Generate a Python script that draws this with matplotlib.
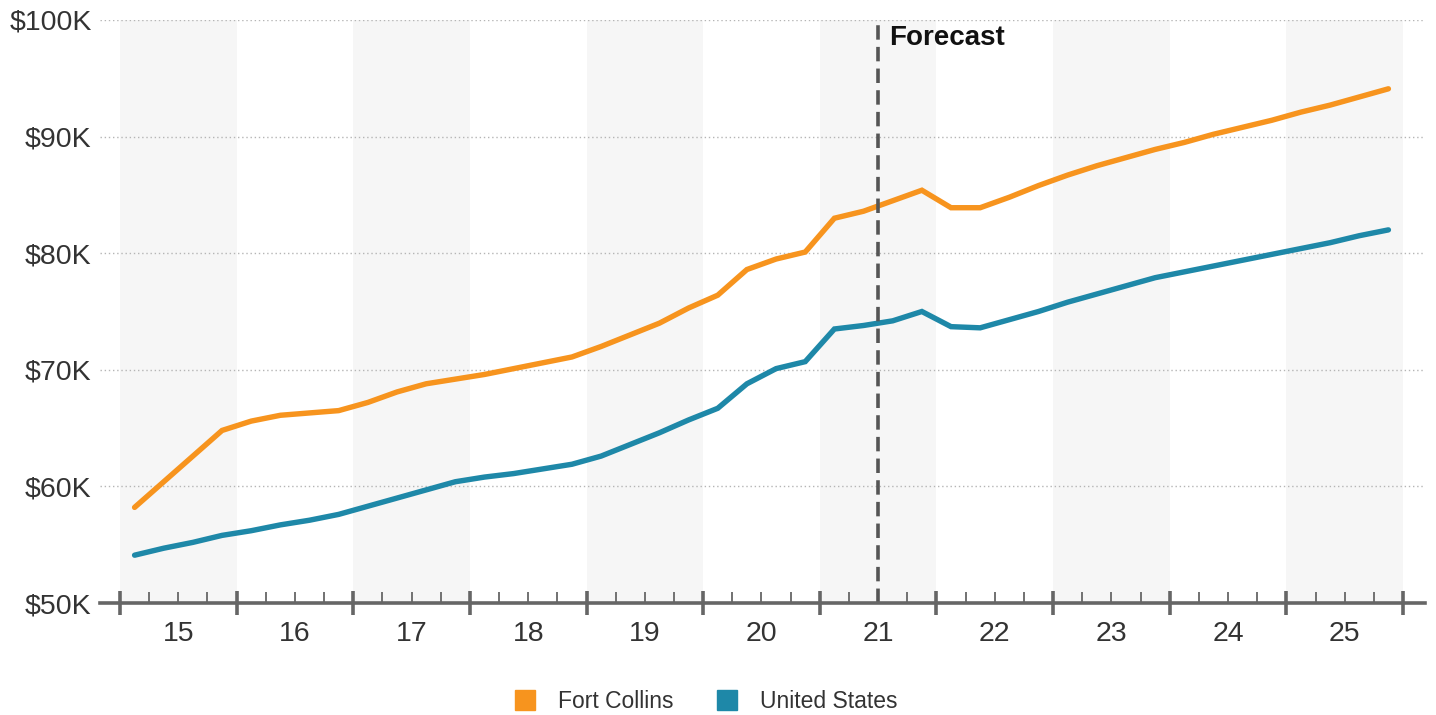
import numpy as np
import matplotlib
matplotlib.use("Agg")
import matplotlib.pyplot as plt
from matplotlib.lines import Line2D

plt.rcParams["font.family"] = ["Liberation Sans", "DejaVu Sans"]

YEARS = [15, 16, 17, 18, 19, 20, 21, 22, 23, 24, 25]
FORECAST_AT = 21.0

# quarterly values, Q1 2015 .. Q4 2025, in $K
FORT_COLLINS = [
    58.2, 60.4, 62.6, 64.8,
    65.6, 66.1, 66.3, 66.5,
    67.2, 68.1, 68.8, 69.2,
    69.6, 70.1, 70.6, 71.1,
    72.0, 73.0, 74.0, 75.3,
    76.4, 78.6, 79.5, 80.1,
    83.0, 83.6, 84.5, 85.4,
    83.9, 83.9, 84.8, 85.8,
    86.7, 87.5, 88.2, 88.9,
    89.5, 90.2, 90.8, 91.4,
    92.1, 92.7, 93.4, 94.1,
]
UNITED_STATES = [
    54.1, 54.7, 55.2, 55.8,
    56.2, 56.7, 57.1, 57.6,
    58.3, 59.0, 59.7, 60.4,
    60.8, 61.1, 61.5, 61.9,
    62.6, 63.6, 64.6, 65.7,
    66.7, 68.8, 70.1, 70.7,
    73.5, 73.8, 74.2, 75.0,
    73.7, 73.6, 74.3, 75.0,
    75.8, 76.5, 77.2, 77.9,
    78.4, 78.9, 79.4, 79.9,
    80.4, 80.9, 81.5, 82.0,
]

ORANGE = "#F7941E"
TEAL = "#1E88A8"
GREY = "#666666"


def main():
    fig = plt.figure(figsize=(14.36, 7.15), dpi=100)
    ax = fig.add_axes([100 / 1436, 112 / 715, 1325 / 1436, 583 / 715])

    x = np.array([YEARS[0] - 0.5 + (i + 0.5) / 4 for i in range(len(FORT_COLLINS))])

    # alternating year bands
    for k, yr in enumerate(YEARS):
        if k % 2 == 0:
            ax.axvspan(yr - 0.5, yr + 0.5, color="#f6f6f6", zorder=0, lw=0)

    for v in [60, 70, 80, 90, 100]:
        ax.axhline(v, color="#b5b5b5", lw=1, ls=(0, (1, 2)), zorder=1)

    ax.plot(x, FORT_COLLINS, color=ORANGE, lw=3.9, solid_capstyle="round",
            solid_joinstyle="miter", zorder=3)
    ax.plot(x, UNITED_STATES, color=TEAL, lw=3.9, solid_capstyle="round",
            solid_joinstyle="miter", zorder=3)

    ax.axvline(FORECAST_AT, color="#555555", lw=2.6, ls=(0, (4, 2)), zorder=4)
    ax.text(FORECAST_AT + 0.09, 98.45, "Forecast", fontsize=20, fontweight="bold",
            color="#111111", va="center", ha="left")

    ax.set_xlim(YEARS[0] - 0.5 - 20 / 116.6, YEARS[-1] + 0.5 + 22 / 116.6)
    ax.set_ylim(50, 100)

    for s in ["top", "right", "left"]:
        ax.spines[s].set_visible(False)
    ax.spines["bottom"].set_color(GREY)
    ax.spines["bottom"].set_linewidth(2.6)
    ax.spines["bottom"].set_zorder(5)

    ax.set_yticks([50, 60, 70, 80, 90, 100])
    ax.set_yticklabels([f"${v}K" for v in [50, 60, 70, 80, 90, 100]])
    ax.tick_params(axis="y", length=0, pad=6, labelsize=20.5, labelcolor="#333333")

    # year boundaries as major ticks, quarters as minor
    bounds = [yr - 0.5 for yr in YEARS] + [YEARS[-1] + 0.5]
    ax.set_xticks(bounds)
    ax.set_xticklabels([])
    ax.set_xticks([b + q / 4 for b in bounds[:-1] for q in (1, 2, 3)], minor=True)
    ax.tick_params(axis="x", which="major", direction="inout", length=17, width=2.6,
                   color=GREY)
    ax.tick_params(axis="x", which="minor", direction="in", length=8, width=1.3,
                   color=GREY)
    for yr in YEARS:
        ax.text(yr, 47.3, str(yr), ha="center", va="center", fontsize=20.5,
                color="#333333")

    handles = [
        Line2D([], [], ls="none", marker="s", ms=14.4, color=ORANGE, label="Fort Collins"),
        Line2D([], [], ls="none", marker="s", ms=14.4, color=TEAL, label="United States"),
    ]
    fig.legend(handles=handles, loc="center", bbox_to_anchor=(706 / 1436, 13 / 715),
               ncol=2, frameon=False, fontsize=16.5, labelcolor="#333333",
               handlelength=0.9, handletextpad=1.0, columnspacing=1.9)

    fig.savefig("out.png", dpi=100)


if __name__ == "__main__":
    main()
